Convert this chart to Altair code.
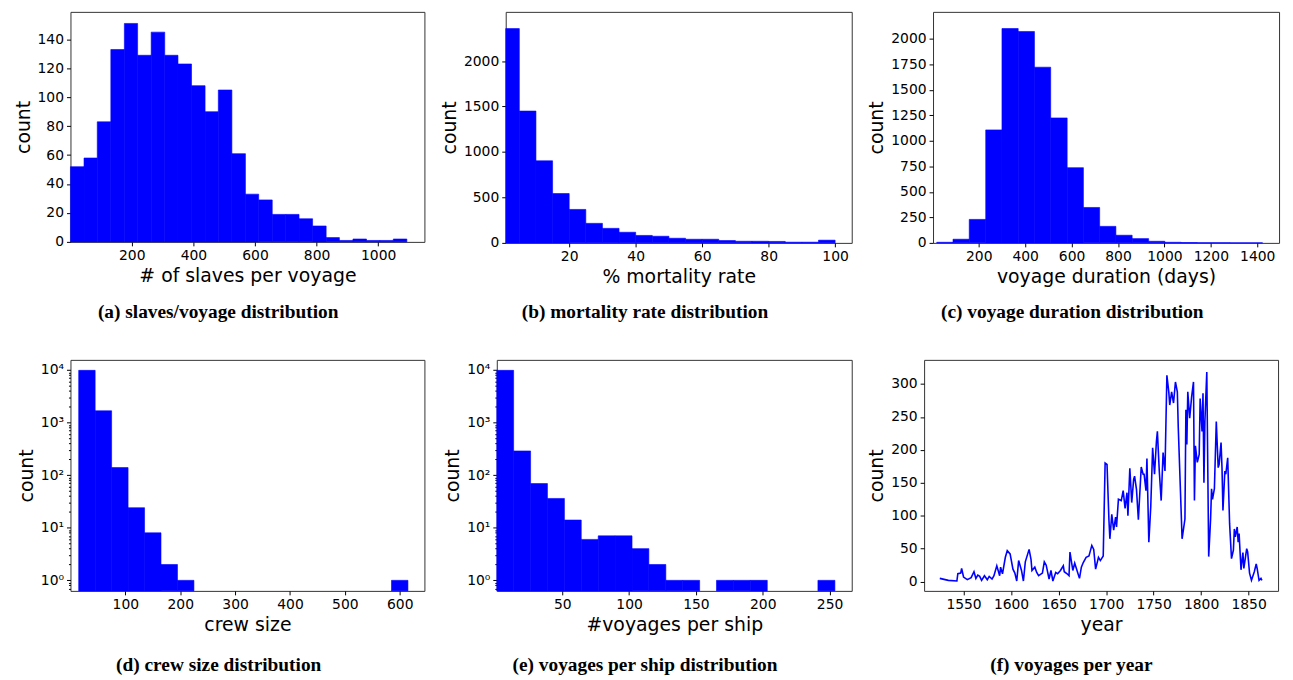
import altair as alt
import pandas as pd

# ---------------- data ----------------
a_edges = [1, 45, 88, 132, 176, 219, 263, 307, 350, 394, 438, 481, 525, 569, 612,
           656, 700, 743, 787, 831, 874, 918, 962, 1005, 1049, 1093]
a_counts = [52, 58, 83, 133, 151, 129, 145, 129, 123, 108, 90, 105, 61, 33, 29,
            19, 19, 16, 11, 3, 1, 2, 1, 1, 2]

b_edges = [0.9, 5, 10, 15, 20, 25, 30, 35, 40, 45, 50, 55, 60, 65, 70, 75, 80, 85, 90, 95, 100]
b_counts = [2357, 1450, 903, 543, 368, 215, 160, 117, 82, 73, 51, 40, 40, 26, 18,
            18, 16, 8, 8, 30]

c_edges = [19, 89, 159, 230, 300, 370, 440, 510, 581, 651, 721, 791, 861, 932, 1002,
           1072, 1142, 1212, 1283, 1353, 1423]
c_counts = [6, 36, 230, 1107, 2100, 2071, 1721, 1224, 737, 347, 162, 75, 42, 16, 6,
            3, 2, 2, 1, 1]

d_edges = [15, 45, 75, 105, 135, 165, 195, 225, 255, 285, 315, 345, 375, 405, 435,
           465, 495, 525, 555, 585, 615]
d_counts = [9800, 1670, 139, 24, 8, 2, 1, 0, 0, 0, 0, 0, 0, 0, 0, 0, 0, 0, 0, 1]

e_edges = [1, 13.6, 26.3, 38.9, 51.6, 64.2, 76.9, 89.5, 102.2, 114.8, 127.5, 140.1,
           152.8, 165.4, 178.1, 190.7, 203.4, 216.0, 228.7, 241.3, 254.0]
e_counts = [9800, 288, 69, 36, 14, 6, 7, 7, 4, 2, 1, 1, 0, 1, 1, 1, 0, 0, 0, 1]

f_years = [1525, 1534, 1543, 1544, 1547, 1548, 1550, 1554, 1558, 1561, 1563, 1565,
           1567, 1569, 1572, 1575, 1577, 1580, 1582, 1585, 1588, 1589, 1591, 1594,
           1596, 1599, 1602, 1604, 1606, 1608, 1611, 1613, 1615, 1619, 1621, 1622,
           1625, 1627, 1629, 1633, 1635, 1637, 1640, 1642, 1644, 1647, 1649, 1652,
           1655, 1656, 1659, 1661, 1662, 1665, 1667, 1669, 1672, 1674, 1676, 1679,
           1682, 1685, 1687, 1689, 1692, 1694, 1697, 1699, 1701, 1703, 1704, 1706,
           1708, 1710, 1711, 1713, 1716, 1718, 1720, 1722, 1723, 1725, 1727, 1729,
           1730, 1732, 1734, 1737, 1739, 1740, 1742, 1743, 1745, 1747, 1749, 1751,
           1753, 1754, 1756, 1758, 1760, 1762, 1764, 1766, 1767, 1769, 1771, 1773,
           1775, 1776, 1780, 1783, 1784, 1785, 1786, 1788, 1790, 1792, 1793, 1794,
           1796, 1798, 1799, 1801, 1802, 1803, 1804, 1806, 1808, 1810, 1811, 1812,
           1814, 1816, 1818, 1819, 1821, 1822, 1823, 1825, 1826, 1828, 1830, 1832,
           1834, 1835, 1836, 1838, 1839, 1840, 1842, 1844, 1845, 1848, 1849, 1851,
           1853, 1856, 1858, 1859, 1861, 1863, 1864]
f_counts = [5, 2, 1, 12, 13, 20, 7, 3, 6, 15, 5, 10,
            8, 2, 9, 3, 8, 4, 9, 24, 9, 22, 12, 37,
            47, 42, 19, 13, 1, 32, 17, 1, 30, 49, 34, 17,
            22, 14, 9, 13, 30, 25, 4, 17, 1, 14, 12, 17,
            24, 15, 12, 9, 45, 17, 28, 19, 5, 22, 29, 37,
            39, 55, 49, 19, 37, 32, 39, 180, 178, 94, 65, 102,
            78, 98, 83, 125, 123, 138, 111, 135, 100, 172, 120, 155,
            160, 140, 94, 174, 163, 163, 138, 187, 60, 113, 203, 163,
            213, 228, 168, 123, 196, 168, 313, 288, 268, 288, 271, 303,
            288, 233, 65, 95, 261, 208, 288, 248, 280, 303, 123, 206,
            181, 193, 278, 228, 286, 150, 243, 318, 38, 95, 141, 125,
            141, 243, 173, 178, 211, 173, 108, 168, 163, 188, 88, 35,
            48, 80, 68, 83, 60, 73, 18, 44, 20, 50, 45, 13,
            2, 15, 27, 20, 2, 5, 2]

captions = ["(a) slaves/voyage distribution", "(b) mortality rate distribution",
            "(c) voyage duration distribution", "(d) crew size distribution",
            "(e) voyages per ship distribution", "(f) voyages per year"]

BLUE = "#0000ff"
CAP_FONT = "Liberation Serif"
LOG_LABELS = ("datum.value == 1 ? '10⁰' : datum.value == 10 ? '10¹' : "
              "datum.value == 100 ? '10²' : datum.value == 1000 ? '10³' : "
              "datum.value == 10000 ? '10⁴' : ''")
LOG_TICKS = [0.7, 0.8, 0.9, 1, 2, 3, 4, 5, 6, 7, 8, 9, 10, 20, 30, 40, 50, 60, 70, 80, 90,
             100, 200, 300, 400, 500, 600, 700, 800, 900, 1000, 2000, 3000, 4000, 5000,
             6000, 7000, 8000, 9000, 10000]
LOG_MIN = 0.63


def caption(text, dx, offset):
    return alt.TitleParams(text=text, orient="bottom", anchor="middle", frame="group",
                           dx=dx, offset=offset, font=CAP_FONT, fontWeight="bold",
                           fontSize=19.5, color="black")


def hist(edges, counts, xdom, ydom, xvals, yvals, xtitle, cap, w, h, dx, off, log=False):
    df = pd.DataFrame({"lo": edges[:-1], "hi": edges[1:], "count": counts})
    df = df[df["count"] > 0]
    if log:
        yax = alt.Axis(values=LOG_TICKS, labelExpr=LOG_LABELS, title="count",
                       tickSize={"condition": {"test": "indexof([1,10,100,1000,10000], datum.value) >= 0",
                                               "value": 4}, "value": 2})
        ysc = alt.Scale(type="log", domain=ydom, nice=False)
        base = alt.datum(LOG_MIN)
    else:
        yax = alt.Axis(values=yvals, format="d", title="count")
        ysc = alt.Scale(domain=ydom, nice=False, zero=False)
        base = alt.datum(0)
    return alt.Chart(df).mark_bar(color=BLUE, stroke=BLUE, strokeWidth=0.6).encode(
        x=alt.X("lo:Q", scale=alt.Scale(domain=xdom, nice=False, zero=False),
                axis=alt.Axis(values=xvals, format="d", title=xtitle)),
        x2="hi:Q",
        y=alt.Y("count:Q", scale=ysc, axis=yax),
        y2=base,
    ).properties(width=w, height=h, title=caption(cap, dx, off))


pa = hist(a_edges, a_counts, [1, 1150], [0, 159], [200, 400, 600, 800, 1000],
          [0, 20, 40, 60, 80, 100, 120, 140], "# of slaves per voyage", captions[0],
          357, 232, -29.5, 18)
pb = hist(b_edges, b_counts, [0.9, 105], [0, 2541], [20, 40, 60, 80, 100],
          [0, 500, 1000, 1500, 2000], "% mortality rate", captions[1],
          349, 233, -34, 17)
pc = hist(c_edges, c_counts, [3, 1494], [0, 2263], [200, 400, 600, 800, 1000, 1200, 1400],
          [0, 250, 500, 750, 1000, 1250, 1500, 1750, 2000], "voyage duration (days)",
          captions[2], 349, 233, -34, 17)
pd_ = hist(d_edges, d_counts, [0, 645], [LOG_MIN, 15500], [100, 200, 300, 400, 500, 600],
           None, "crew size", captions[3], 357, 233, -29, 22, log=True)
pe = hist(e_edges, e_counts, [1, 266.6], [LOG_MIN, 15500], [50, 100, 150, 200, 250],
          None, "#voyages per ship", captions[4], 358, 233, -29.5, 22, log=True)

f_df = pd.DataFrame({"year": f_years, "count": f_counts})
pf = alt.Chart(f_df).mark_line(color=BLUE, strokeWidth=1.6).encode(
    x=alt.X("year:Q", scale=alt.Scale(domain=[1508.5, 1881], nice=False, zero=False),
            axis=alt.Axis(values=[1550, 1600, 1650, 1700, 1750, 1800, 1850], format="d",
                          title="year")),
    y=alt.Y("count:Q", scale=alt.Scale(domain=[-14, 336.5], nice=False, zero=False),
            axis=alt.Axis(values=[0, 50, 100, 150, 200, 250, 300], format="d", title="count")),
).properties(width=357, height=233, title=caption(captions[5], -30, 22))

row1 = alt.hconcat(pa, pb, pc, spacing=82, bounds="flush")
row2 = alt.hconcat(pd_, pe, pf, spacing=73, bounds="flush")

chart = alt.vconcat(row1, row2, spacing=37).properties(
    padding={"top": 0, "left": 5, "right": 5, "bottom": 5}
).configure_view(stroke="#333", strokeWidth=1).configure_axis(
    labelFont="DejaVu Sans", labelFontSize=14, labelColor="black",
    titleFont="DejaVu Sans", titleFontSize=19, titleFontWeight="normal", titleColor="black",
    tickColor="black", tickSize=4, labelPadding=3, titlePadding=4,
    domain=False, grid=False
).configure_title(font=CAP_FONT)

chart.save("out.html", embed_options={"renderer": "svg", "actions": False})
